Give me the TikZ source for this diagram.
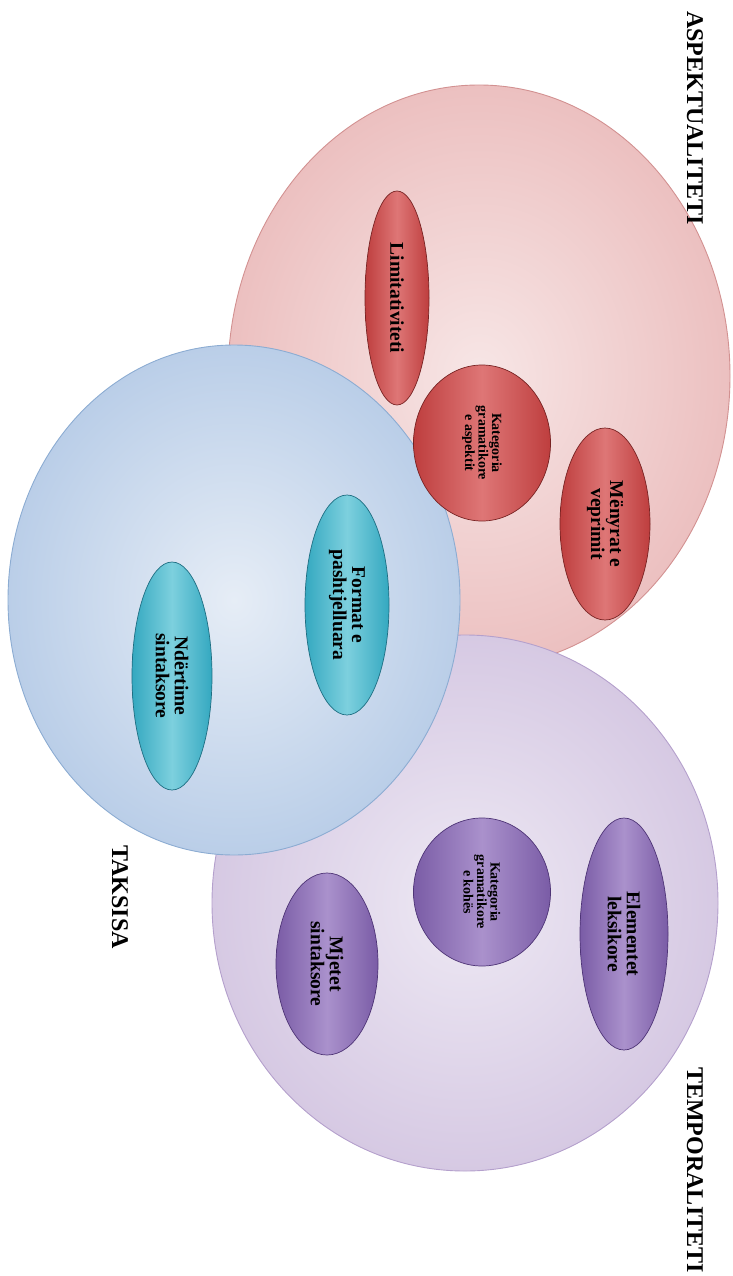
\documentclass[tikz,border=0pt]{standalone}
\usepackage{fontspec}
\setmainfont{Liberation Serif}
\usetikzlibrary{shapes.geometric}

\definecolor{aspin}{RGB}{247,230,230}
\definecolor{aspout}{RGB}{236,192,192}
\definecolor{aspline}{RGB}{210,145,145}
\definecolor{tempin}{RGB}{238,233,244}
\definecolor{tempout}{RGB}{214,201,227}
\definecolor{templine}{RGB}{180,160,204}
\definecolor{taksin}{RGB}{230,237,246}
\definecolor{taksout}{RGB}{186,206,232}
\definecolor{taksline}{RGB}{140,172,210}
\definecolor{redmid}{RGB}{222,118,118}
\definecolor{redside}{RGB}{190,62,62}
\definecolor{redline}{RGB}{120,35,35}
\definecolor{tealmid}{RGB}{125,208,222}
\definecolor{tealside}{RGB}{52,168,192}
\definecolor{tealline}{RGB}{30,110,130}
\definecolor{purpmid}{RGB}{170,145,204}
\definecolor{purpside}{RGB}{122,92,166}
\definecolor{purpline}{RGB}{78,52,118}

\begin{document}
\begin{tikzpicture}[x=1pt, y=-1pt,
  bigset/.style={ellipse, inner sep=0pt, line width=0.9pt},
  subset/.style={ellipse, rotate=-90, inner sep=0pt, align=center, line width=0.7pt},
  redsub/.style={subset, draw=redline, left color=redside, right color=redside, middle color=redmid},
  tealsub/.style={subset, draw=tealline, left color=tealside, right color=tealside, middle color=tealmid},
  purpsub/.style={subset, draw=purpline, left color=purpside, right color=purpside, middle color=purpmid},
  bigtext/.style={font=\bfseries\fontsize{19.5}{19}\selectfont},
  smalltext/.style={font=\bfseries\fontsize{14}{13.5}\selectfont},
  setlabel/.style={rotate=-90, font=\bfseries\fontsize{24}{26}\selectfont}]
  \useasboundingbox (0,0) rectangle (732,1276);

  % the three big sets
  \node[bigset, draw=aspline, inner color=aspin, outer color=aspout,
        minimum width=502pt, minimum height=582pt] (asp) at (479,376) {};
  \node[bigset, draw=templine, inner color=tempin, outer color=tempout,
        minimum width=506pt, minimum height=536pt] (temp) at (465,903) {};
  \node[bigset, draw=taksline, inner color=taksin, outer color=taksout,
        minimum width=452pt, minimum height=510pt] (taks) at (234,600) {};

  % aspektualiteti
  \node[redsub, bigtext, minimum width=214pt, minimum height=64pt] (limit) at (397,298) {Limitativiteti};
  \node[redsub, smalltext, minimum width=156pt, minimum height=137pt] (katasp) at (482,443) {Kategoria\\gramatikore\\e aspektit};
  \node[redsub, bigtext, minimum width=192pt, minimum height=90pt] (menyra) at (605,524) {Mënyrat e\\veprimit};

  % taksisa
  \node[tealsub, bigtext, minimum width=220pt, minimum height=84pt] (format) at (347,605) {Format e\\pashtjelluara};
  \node[tealsub, bigtext, minimum width=228pt, minimum height=80pt] (ndert) at (172,676) {Ndërtime\\sintaksore};

  % temporaliteti
  \node[purpsub, bigtext, minimum width=232pt, minimum height=88pt] (elem) at (624,934) {Elementet\\leksikore};
  \node[purpsub, smalltext, minimum width=148pt, minimum height=137pt] (katkoh) at (482,892) {Kategoria\\gramatikore\\e kohës};
  \node[purpsub, bigtext, minimum width=182pt, minimum height=102pt] (mjet) at (327,964) {Mjetet\\sintaksore};

  % labels
  \node[setlabel] (asplab) at (695,118) {ASPEKTUALITETI};
  \node[setlabel] (templab) at (695,1170) {TEMPORALITETI};
  \node[setlabel] (takslab) at (120,897) {TAKSISA};
\end{tikzpicture}
\end{document}
